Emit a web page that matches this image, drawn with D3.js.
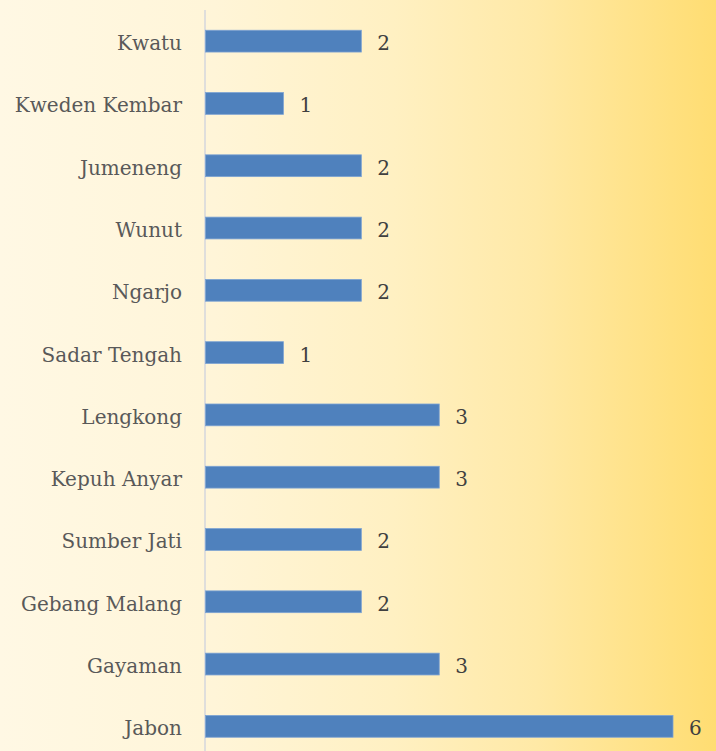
<!DOCTYPE html>
<html><head><meta charset="utf-8">
<script src="https://cdn.jsdelivr.net/npm/d3@7"></script>
<style>html,body{margin:0;padding:0;overflow:hidden;background:#fff;}</style>
</head><body>
<script>
const categories = ["Kwatu","Kweden Kembar","Jumeneng","Wunut","Ngarjo","Sadar Tengah","Lengkong","Kepuh Anyar","Sumber Jati","Gebang Malang","Gayaman","Jabon"];
const values = [2,1,2,2,2,1,3,3,2,2,3,6];

const W = 716, H = 751;
const svg = d3.select("body").append("svg").attr("width", W).attr("height", H);

const defs = svg.append("defs");
const grad = defs.append("linearGradient").attr("id","bg").attr("x1","0").attr("x2","1").attr("y1","0").attr("y2","0");
[[0,"#fff8e4"],[0.3,"#fff5d8"],[0.55,"#fff0c2"],[0.75,"#ffe9a6"],[1,"#ffdd72"]].forEach(([o,c])=>grad.append("stop").attr("offset",o).attr("stop-color",c));
svg.append("rect").attr("width",W).attr("height",H).attr("fill","url(#bg)");

const x = d3.scaleLinear().domain([0,6]).range([205.5,673]);
const y = d3.scaleBand().domain(categories).range([10,757.5]).paddingInner(0.65).paddingOuter(0.325);

// axis line
svg.append("line").attr("x1",205).attr("x2",205).attr("y1",10).attr("y2",H)
  .attr("stroke","#d4d6dc").attr("stroke-width",1.5);

svg.selectAll("rect.bar").data(categories).join("rect").attr("class","bar")
  .attr("x", x(0)).attr("y", d=>y(d))
  .attr("width", (d,i)=>x(values[i])-x(0)).attr("height", y.bandwidth())
  .attr("fill","#4f81bd").attr("stroke","#7da3d3").attr("stroke-width",0.8);

const font = "DejaVu Serif";
svg.selectAll("text.cat").data(categories).join("text").attr("class","cat")
  .attr("x",182).attr("y",d=>y(d)+y.bandwidth()/2).attr("dy","0.45em")
  .attr("text-anchor","end").attr("font-family",font).attr("font-size",20).attr("fill","#595959")
  .text(d=>d);

svg.selectAll("text.val").data(categories).join("text").attr("class","val")
  .attr("x",(d,i)=>x(values[i])+16).attr("y",d=>y(d)+y.bandwidth()/2).attr("dy","0.45em")
  .attr("font-family",font).attr("font-size",20).attr("fill","#404040")
  .text((d,i)=>values[i]);
</script>
</body></html>
